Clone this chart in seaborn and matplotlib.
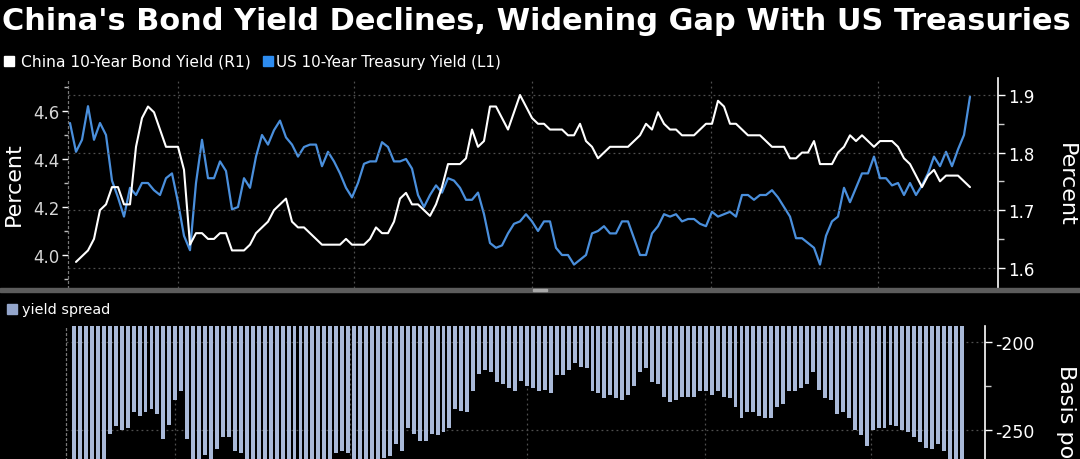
import numpy as np
import pandas as pd
import matplotlib
matplotlib.use("Agg")
import matplotlib.pyplot as plt
import seaborn as sns
from matplotlib.patches import Rectangle
from matplotlib.ticker import MultipleLocator, FixedLocator

# ---------------- data ----------------
title = "China's Bond Yield Declines, Widening Gap With US Treasuries"
china_label = "China 10-Year Bond Yield (R1)"
us_label = "US 10-Year Treasury Yield (L1)"
spread_label = "yield spread"
axis_label_pct = "Percent"
axis_label_bp = "Basis points"

us_yield = [
    4.55, 4.43, 4.48, 4.62, 4.48, 4.55, 4.50, 4.31, 4.24, 4.16,
    4.28, 4.25, 4.30, 4.30, 4.27, 4.25, 4.32, 4.34, 4.22, 4.08,
    4.02, 4.30, 4.48, 4.32, 4.32, 4.39, 4.35, 4.19, 4.20, 4.32,
    4.28, 4.41, 4.50, 4.46, 4.52, 4.56, 4.49, 4.46, 4.41,
    4.45, 4.46, 4.46, 4.37, 4.43, 4.39, 4.34, 4.28, 4.24, 4.30,
    4.38, 4.39, 4.39, 4.47, 4.45, 4.39, 4.39, 4.40, 4.36, 4.25,
    4.20, 4.25, 4.29, 4.26, 4.32, 4.31, 4.28, 4.23, 4.23, 4.26,
    4.17, 4.05, 4.03, 4.04, 4.09, 4.13, 4.14, 4.17,
    4.14, 4.10, 4.14, 4.14, 4.03, 4.00, 4.00, 3.96, 3.98, 4.00,
    4.09, 4.10, 4.12, 4.09, 4.09, 4.14, 4.14, 4.07, 4.00, 4.00,
    4.09, 4.12, 4.17, 4.16, 4.17, 4.14, 4.15, 4.15, 4.13, 4.12,
    4.18, 4.16, 4.17, 4.18, 4.16, 4.25, 4.25, 4.23, 4.25,
    4.25, 4.27, 4.24, 4.20, 4.16, 4.07, 4.07, 4.05, 4.03, 3.96,
    4.08, 4.14, 4.16, 4.28, 4.22, 4.28, 4.34, 4.34, 4.41, 4.32,
    4.32, 4.29, 4.30, 4.25, 4.30, 4.25, 4.29, 4.34, 4.41, 4.37,
    4.43, 4.37, 4.44, 4.50, 4.66,
]

china_yield = [
    np.nan, 1.61, 1.62, 1.63, 1.65, 1.70, 1.71, 1.74, 1.74, 1.71,
    1.71, 1.81, 1.86, 1.88, 1.87, 1.84, 1.81, 1.81, 1.81, 1.77,
    1.64, 1.66, 1.66, 1.65, 1.65, 1.66, 1.66, 1.63, 1.63, 1.63,
    1.64, 1.66, 1.67, 1.68, 1.70, 1.71, 1.72, 1.68, 1.67,
    1.67, 1.66, 1.65, 1.64, 1.64, 1.64, 1.64, 1.65, 1.64, 1.64,
    1.64, 1.65, 1.67, 1.66, 1.66, 1.68, 1.72, 1.73, 1.71, 1.71,
    1.70, 1.69, 1.71, 1.74, 1.78, 1.78, 1.78, 1.79, 1.84, 1.81,
    1.82, 1.88, 1.88, 1.86, 1.84, 1.87, 1.90, 1.88,
    1.86, 1.85, 1.85, 1.84, 1.84, 1.84, 1.83, 1.83, 1.85, 1.82,
    1.81, 1.79, 1.80, 1.81, 1.81, 1.81, 1.81, 1.82, 1.83, 1.85,
    1.84, 1.87, 1.85, 1.84, 1.84, 1.83, 1.83, 1.83, 1.84, 1.85,
    1.85, 1.89, 1.88, 1.85, 1.85, 1.84, 1.83, 1.83, 1.83,
    1.82, 1.81, 1.81, 1.81, 1.79, 1.79, 1.80, 1.80, 1.82, 1.78,
    1.78, 1.78, 1.80, 1.81, 1.83, 1.82, 1.83, 1.82, 1.81, 1.82,
    1.82, 1.82, 1.81, 1.79, 1.78, 1.76, 1.74, 1.76, 1.77, 1.75,
    1.76, 1.76, 1.76, 1.75, 1.74,
]

yield_spread = [
    np.nan, -282, -286, -299, -283, -285, -279, -252, -248, -250,
    -249, -240, -242, -240, -238, -241, -255, -247, -233, -228,
    -255, -272, -282, -264, -268, -261, -254, -254, -262, -263,
    -268, -275, -283, -278, -282, -285, -277, -278, -274,
    -278, -280, -281, -273, -279, -270, -263, -262, -263, -268,
    -274, -274, -272, -281, -266, -265, -258, -262, -249, -252,
    -256, -256, -252, -253, -251, -249, -238, -239, -240, -228,
    -218, -216, -217, -223, -224, -226, -228, -222,
    -225, -226, -228, -227, -229, -219, -219, -216, -212, -214,
    -215, -228, -229, -232, -230, -232, -233, -230, -225, -217,
    -215, -223, -224, -231, -234, -233, -231, -231, -231, -228,
    -228, -230, -228, -231, -232, -237, -243, -240, -240,
    -242, -243, -243, -237, -235, -228, -228, -226, -224, -217,
    -227, -232, -233, -241, -240, -243, -250, -253, -259, -250,
    -249, -249, -247, -248, -250, -251, -254, -257, -260, -261,
    -258, -262, -267, -275, -292,
]

left_ticks = [4.0, 4.2, 4.4, 4.6]
right_ticks = [1.6, 1.7, 1.8, 1.9]
spread_ticks = [-250, -200]

# ---------------- style ----------------
W, H = 1080, 460
BLUE = "#4a8fdc"
BLUE_SQ = "#2d8cf0"
BAR = "#a9b9d8"
BAR_SQ = "#93a5cb"
GRID = "#4f4f4f"
DOT = (0, (1.5, 2.5))

sns.set_theme(style="dark", rc={
    "axes.facecolor": "black", "figure.facecolor": "black",
    "axes.grid": False, "axes.edgecolor": "white",
    "xtick.color": "white", "ytick.color": "white",
    "axes.unicode_minus": False,
})
plt.rcParams["font.family"] = ["DejaVu Sans"]
plt.rcParams["axes.unicode_minus"] = False

days = np.arange(len(us_yield))
df = pd.DataFrame({"day": days, "us": us_yield, "china": china_yield,
                   "spread": yield_spread})

fig = plt.figure(figsize=(W / 100, H / 100), dpi=100)


def px_axes(l, t, r, b):
    return fig.add_axes([l / W, 1 - b / H, (r - l) / W, (b - t) / H])


def px_ylim(v_a, y_a, v_b, y_b, top, bottom):
    s = (v_b - v_a) / (y_b - y_a)
    return (v_a + (bottom - y_a) * s, v_a + (top - y_a) * s)


# ---------------- top panel ----------------
TOP, BOT = 79, 289
ax = px_axes(68, TOP, 998, BOT)
ax2 = ax.twinx()
ax.set_facecolor("black")

month_pos = [18.0, 47.3, 77.0, 106.8, 134.7]

sns.lineplot(data=df, x="day", y="us", ax=ax, color=BLUE, lw=1.6)
sns.lineplot(data=df, x="day", y="china", ax=ax2, color="white", lw=1.5)

ax.set_xlim(-1 / 3, 150 + 28 / 6)
ax.set_ylim(*px_ylim(4.0, 256, 4.6, 112, TOP, BOT))
ax2.set_ylim(*px_ylim(1.6, 268.7, 1.9, 96, TOP, BOT))

for a in (ax, ax2):
    a.set_xlabel("")
    a.set_ylabel("")
    for s in ("top", "bottom"):
        a.spines[s].set_visible(False)
ax.spines["right"].set_visible(False)
ax2.spines["left"].set_visible(False)
ax.spines["left"].set_color("#777777")
ax.spines["left"].set_linestyle(DOT)
ax.spines["left"].set_linewidth(0.9)
ax2.spines["right"].set_color("white")
ax2.spines["right"].set_linewidth(1.2)

ax.xaxis.set_major_locator(FixedLocator(month_pos))
ax.tick_params(axis="x", length=0, labelbottom=False)
ax.grid(axis="x", color=GRID, ls=DOT, lw=0.9)
ax2.grid(False)

ax.set_yticks(left_ticks)
ax.yaxis.set_minor_locator(MultipleLocator(0.1))
ax.tick_params(axis="y", which="major", direction="out", length=4, width=1,
               colors="white", labelcolor="#d6d6d6", labelsize=12, pad=2)
ax.tick_params(axis="y", which="minor", direction="out", length=3, width=1,
               colors="#bbbbbb")

ax2.set_yticks(right_ticks)
ax2.yaxis.set_minor_locator(MultipleLocator(0.05))
ax2.tick_params(axis="y", which="major", direction="out", length=5, width=1,
                colors="white", labelcolor="white", labelsize=12, pad=2)
ax2.tick_params(axis="y", which="minor", direction="out", length=4, width=1,
                colors="#cccccc")
ax2.grid(axis="y", color=GRID, ls=DOT, lw=0.9)
ax2.set_axisbelow(True)

# ---------------- bottom panel ----------------
BTOP, BBOT = 327, 577
axb = px_axes(66, BTOP, 985, BBOT)
axb.set_facecolor("black")
sp = df.dropna(subset=["spread"])
sns.barplot(data=sp, x="day", y="spread", native_scale=True, orient="x",
            color=BAR, saturation=1, width=0.66, errorbar=None,
            linewidth=0, ax=axb)
axb.set_xlim(-0.342, 153.86)
axb.set_ylim(*px_ylim(-200, 343, -250, 431, BTOP, BBOT))
axb.set_xlabel("")
axb.set_ylabel("")
axb.set_axisbelow(True)
for s in ("top", "bottom"):
    axb.spines[s].set_visible(False)
axb.spines["left"].set_color("#777777")
axb.spines["left"].set_linestyle(DOT)
axb.spines["left"].set_linewidth(0.9)
axb.spines["right"].set_color("white")
axb.spines["right"].set_linewidth(1.2)
axb.xaxis.set_major_locator(FixedLocator(month_pos))
axb.tick_params(axis="x", length=0, labelbottom=False)
axb.yaxis.tick_right()
axb.set_yticks(spread_ticks)
axb.yaxis.set_minor_locator(MultipleLocator(25))
axb.tick_params(axis="y", which="major", direction="out", length=5, width=1,
                colors="white", labelcolor="white", labelsize=12.5, pad=2,
                left=False, right=True, labelleft=False, labelright=True)
axb.tick_params(axis="y", which="minor", direction="out", length=4, width=1,
                colors="#cccccc", left=False, right=True)
axb.grid(axis="both", color=GRID, ls=DOT, lw=0.9)

# ---------------- separator ----------------
fig.patches.append(Rectangle((0, 1 - 292.5 / H), 1, 3.5 / H,
                             transform=fig.transFigure, color="#5c5c5c",
                             zorder=5))
fig.patches.append(Rectangle((533 / W, 1 - 292 / H), 14 / W, 2.5 / H,
                             transform=fig.transFigure, color="#a8a8a8",
                             zorder=6))

# ---------------- texts ----------------
fig.canvas.draw()
renderer = fig.canvas.get_renderer()


def fit_text(x0, x1, y, s, size, **kw):
    t = fig.text(x0 / W, 1 - y / H, s, ha="left", **kw)
    t.set_fontsize(size)
    w = t.get_window_extent(renderer).width
    t.set_fontsize(size * (x1 - x0) / w)
    return t


fit_text(2, 1075, 30, title, 20, color="white", weight="bold",
         va="baseline")

fig.patches.append(Rectangle((4 / W, 1 - 67 / H), 10 / W, 10 / H,
                             transform=fig.transFigure, color="white"))
fit_text(21, 250, 62, china_label, 10, color="white", va="center")
fig.patches.append(Rectangle((263 / W, 1 - 67 / H), 10 / W, 10 / H,
                             transform=fig.transFigure, color=BLUE_SQ))
fit_text(276, 500, 62, us_label, 10, color="white", va="center")

fig.patches.append(Rectangle((7 / W, 1 - 315 / H), 10 / W, 10 / H,
                             transform=fig.transFigure, color=BAR_SQ))
fit_text(22, 110, 310, spread_label, 10, color="white", va="center")

fig.text(14 / W, 1 - 184 / H, axis_label_pct, rotation=90, color="white",
         fontsize=16, ha="center", va="center")
fig.text(1066 / W, 1 - 185 / H, axis_label_pct, rotation=270, color="white",
         fontsize=16, ha="center", va="center")
# as in the reference, this label runs off the bottom edge of the chart
fig.text(1066 / W, 1 - 365 / H, axis_label_bp, rotation=270, color="white",
         fontsize=16, ha="center", va="top")

fig.savefig("out.png", dpi=100, facecolor="black")
